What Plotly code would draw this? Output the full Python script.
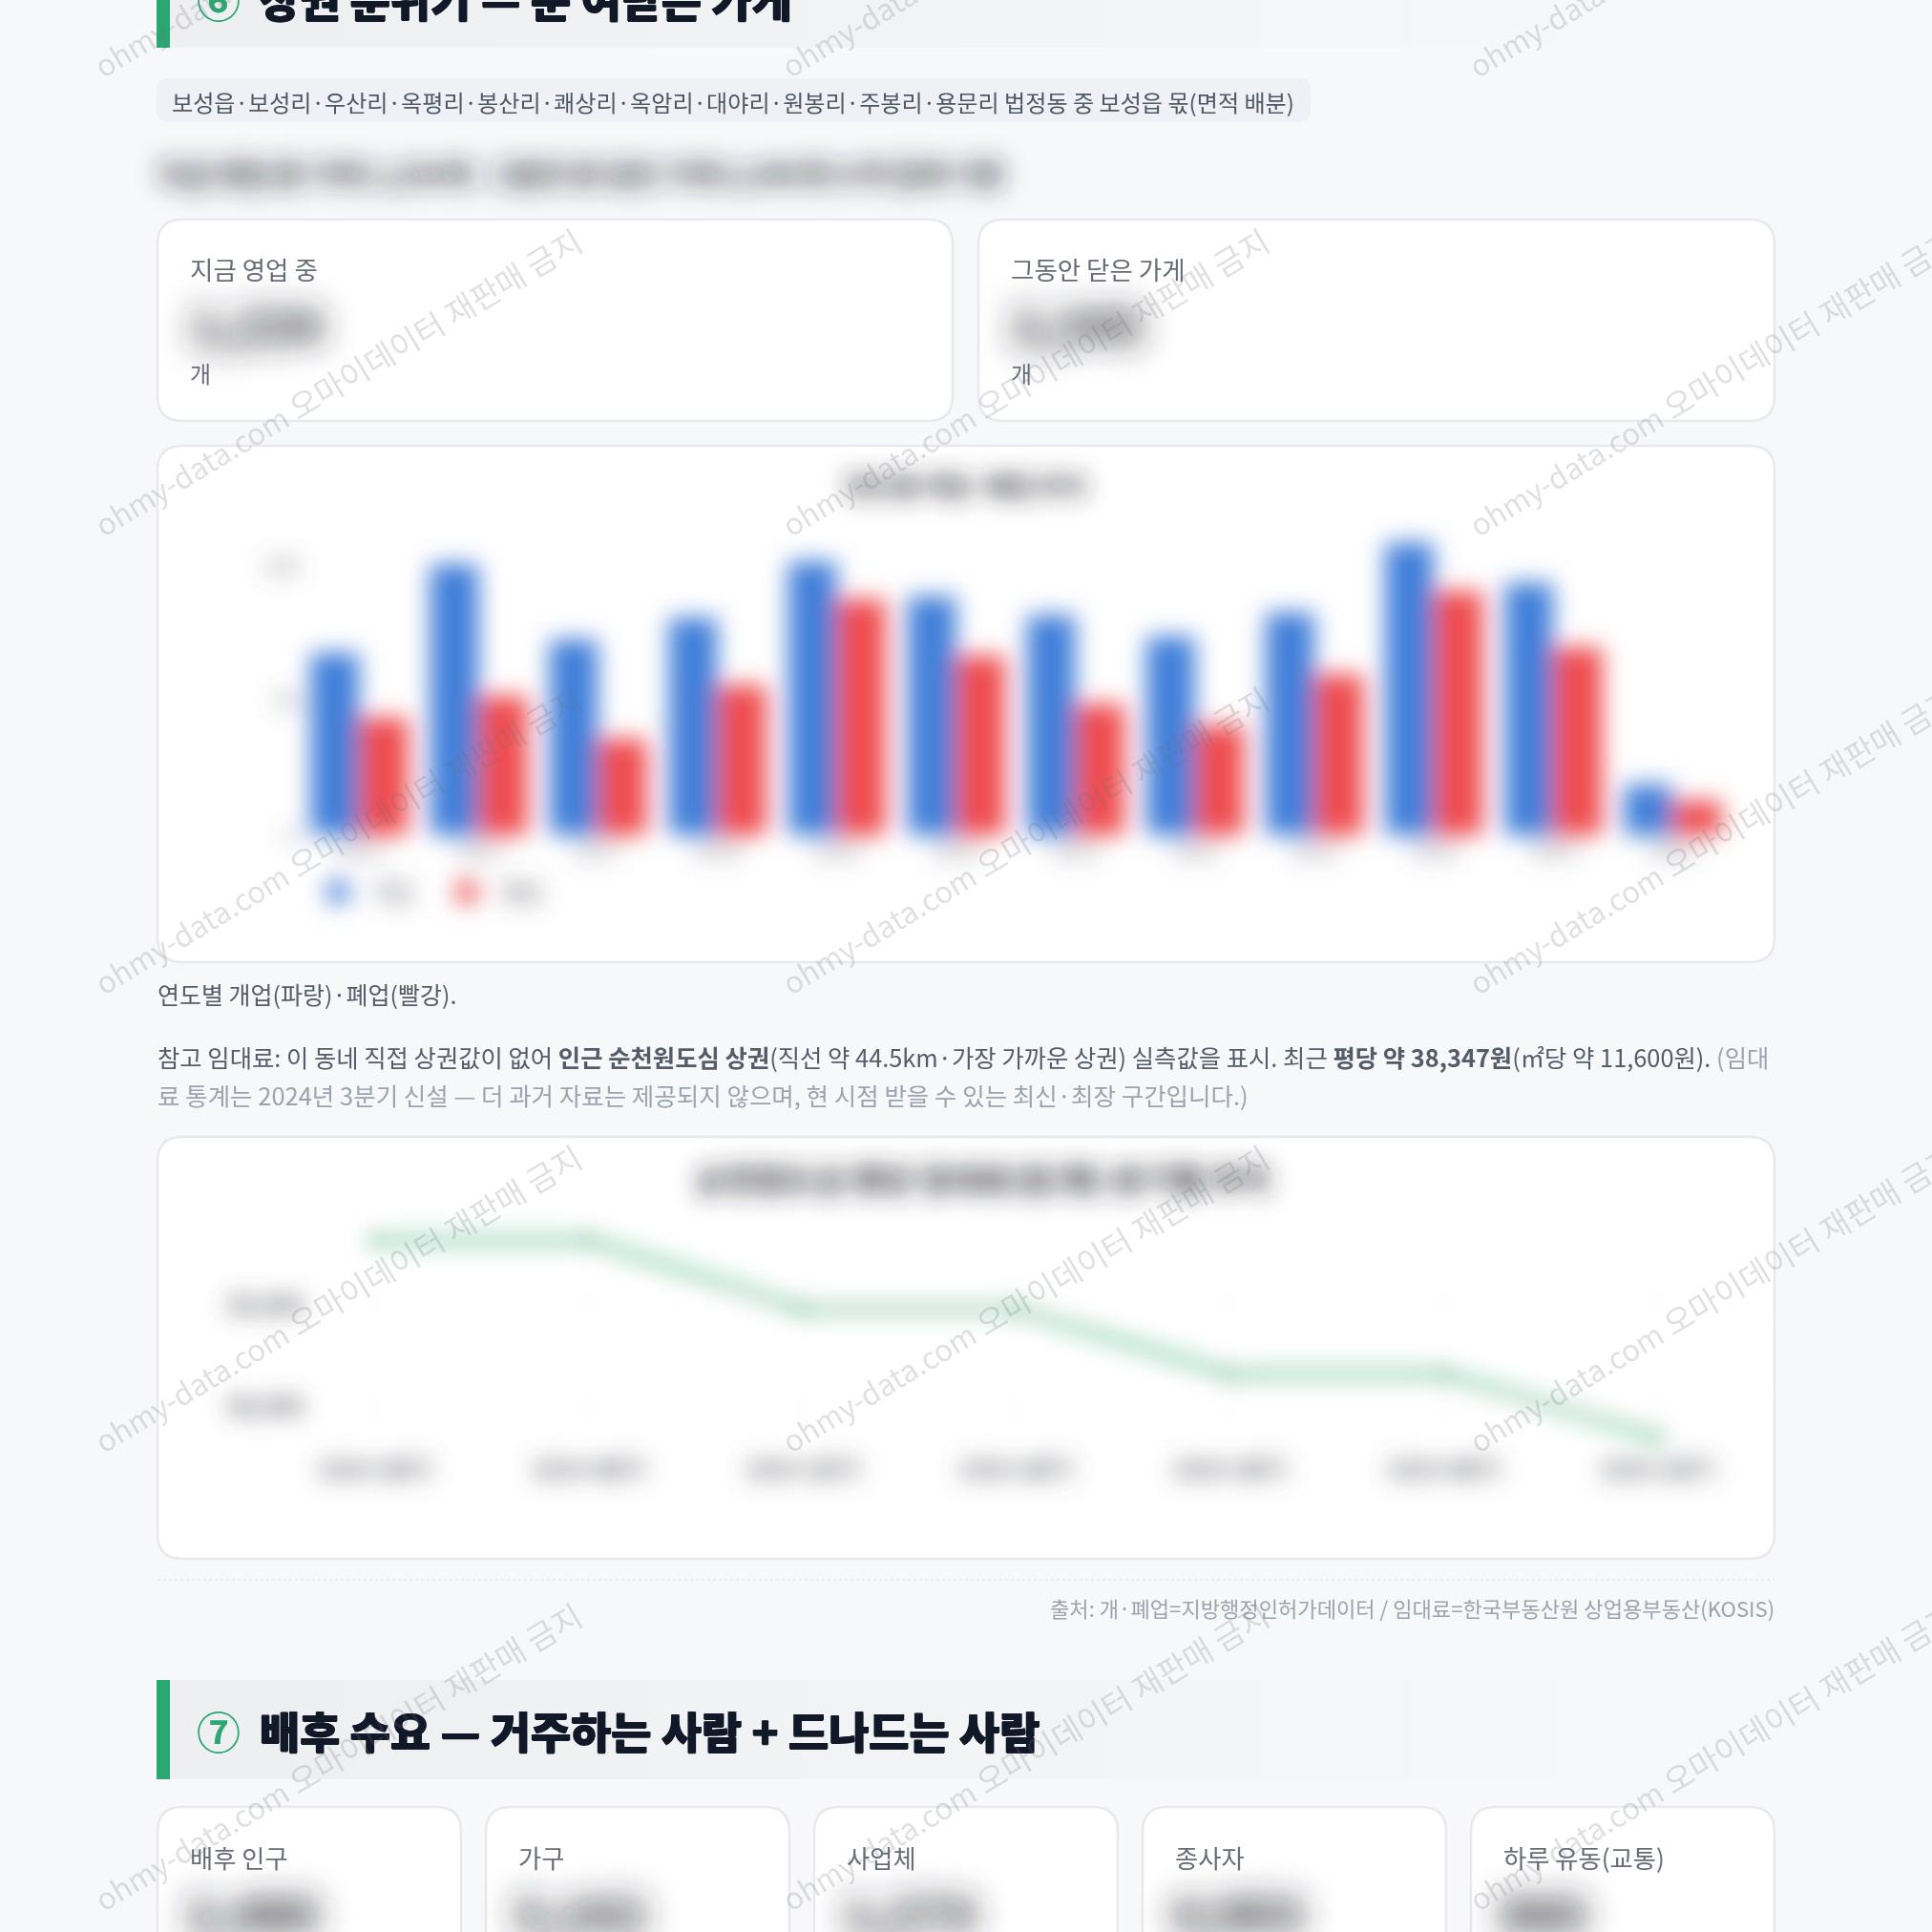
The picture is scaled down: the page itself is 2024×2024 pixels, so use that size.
import json
import plotly.graph_objects as go

W = H = 2024
FONT = "Noto Sans CJK KR"
PAGE_BG = "#f7f8fa"
GREEN = "#2ba772"
BLUE = "#3f7fd9"
RED = "#ef4b4d"
INK = "#111827"
BODY = "#555c69"
LABEL = "#666c78"
MUTED = "#9ca3af"
BLOB = "#262a33"

# 연도별 개업·폐업 건수
years = ["2015", "2016", "2017", "2018", "2019", "2020", "2021", "2022", "2023", "2024", "2025", "2026"]
opened = [68, 101, 73, 81, 102, 89, 82, 74, 83, 109, 94, 19]
closed = [44, 52, 36, 56, 88, 67, 49, 41, 60, 91, 70, 13]

# 분기별 평당 임대료(원)
quarters = ["2024 3분기", "2024 4분기", "2025 1분기", "2025 2분기", "2025 3분기", "2025 4분기", "2026 1분기"]
rent_per_pyeong = [39319, 39319, 38979, 38979, 38658, 38658, 38347]
rent_ticks = [38500, 39000]
rent_tick_labels = ["38,500", "39,000"]


def px(x):
    return x / W


def py(y):
    return 1 - y / H


shapes = []
annotations = []
blur = {}


def rect(x0, y0, x1, y1, fill):
    shapes.append(dict(type="rect", xref="paper", yref="paper", x0=px(x0), x1=px(x1),
                       y0=py(y1), y1=py(y0), fillcolor=fill, line_width=0, layer="below"))


def rounded(x0, y0, x1, y1, r, fill, stroke=None, sw=0):
    X0, X1, Y0, Y1 = px(x0), px(x1), py(y0), py(y1)
    rx, ry = r / W, r / H
    path = (f"M{X0 + rx},{Y0} L{X1 - rx},{Y0} Q{X1},{Y0} {X1},{Y0 - ry} "
            f"L{X1},{Y1 + ry} Q{X1},{Y1} {X1 - rx},{Y1} "
            f"L{X0 + rx},{Y1} Q{X0},{Y1} {X0},{Y1 + ry} "
            f"L{X0},{Y0 - ry} Q{X0},{Y0} {X0 + rx},{Y0} Z")
    shapes.append(dict(type="path", xref="paper", yref="paper", path=path, fillcolor=fill,
                       line=dict(color=stroke or fill, width=sw), layer="below"))


def text(x, y, s, size, color, anchor="left", weight=None, sigma=None, angle=0, shadow=None):
    font = dict(family=FONT, size=size, color=color)
    if weight:
        font["weight"] = weight
    if shadow:
        font["shadow"] = shadow
    annotations.append(dict(xref="paper", yref="paper", x=px(x), y=py(y), text=s, showarrow=False,
                            xanchor=anchor, yanchor="middle", font=font, textangle=angle,
                            borderpad=0, borderwidth=0))
    if sigma:
        blur[len(annotations) - 1] = sigma


def section_banner(top, bottom, number, title):
    # 왼쪽 강조선과 오른쪽으로 옅어지는 띠
    edges = [178, 358, 518, 678, 838, 1000, 1160, 1320, 1477, 1630, 1784]
    start, end = (238, 239, 241), (247, 248, 250)
    for i in range(len(edges) - 1):
        t = i / (len(edges) - 2)
        c = tuple(round(a + (b - a) * t) for a, b in zip(start, end))
        rect(edges[i], top, edges[i + 1], bottom, "rgb(%d,%d,%d)" % c)
    rect(164, top, 178, bottom, GREEN)
    mid = (top + bottom) / 2
    text(229, mid, number, 46, GREEN, "center", weight=700)
    text(272, mid, title, 45.8, INK, weight=900,
         shadow=f"0.7px 0 0 {INK}, -0.7px 0 0 {INK}, 0 0.5px 0 {INK}")


def card(x0, y0, x1, y1):
    rounded(x0, y0, x1, y1, 26, "#ffffff", "#e7e9ee", 2.5)


# 섹션 6 머리글과 요약 영역
section_banner(-54, 50, "⑥", "상권 분위기 — 문 여닫은 가게")
rounded(164, 82, 1373, 128, 13, "#eff1f6")
text(180, 106, "보성읍·보성리·우산리·옥평리·봉산리·쾌상리·옥암리·대야리·원봉리·주봉리·용문리 법정동 중 보성읍 몫(면적 배분)",
     24.1, "#4f5664")
text(165, 181, "지금 영업 중 가게 1,234개", 30, BLOB, weight=700, sigma=13)
text(510, 181, "그동안 문 닫은 가게 2,345개 누적 집계 기준", 30, BLOB, weight=700, sigma=13)

card(165, 230, 998, 441)
card(1025, 230, 1859, 441)
text(199, 281, "지금 영업 중", 26.5, LABEL)
text(199, 338, "1,234", 50, BLOB, weight=900, sigma=17)
text(199, 391, "개", 24, LABEL)
text(1059, 281, "그동안 닫은 가게", 26.5, LABEL)
text(1059, 338, "2,345", 50, BLOB, weight=900, sigma=17)
text(1059, 391, "개", 24, LABEL)

# 차트 카드
card(165, 467, 1859, 1008)
text(1012, 508, "연도별 개업·폐업 추이", 27, BLOB, "center", weight=700, sigma=12)

text(165, 1041, "연도별 개업(파랑)·폐업(빨강).", 25, BODY)
text(165, 1107,
     "참고 임대료: 이 동네 직접 상권값이 없어 <b>인근 순천원도심 상권</b>(직선 약 44.5km·가장 가까운 상권) 실측값을 표시. "
     "최근 <b>평당 약 38,347원</b>(㎡당 약 11,600원). "
     f"<span style='color:{MUTED}'>(임대</span>",
     25.35, BODY)
text(165, 1146, "료 통계는 2024년 3분기 신설 — 더 과거 자료는 제공되지 않으며, 현 시점 받을 수 있는 최신·최장 구간입니다.)",
     25.5, MUTED)

card(165, 1191, 1859, 1633)
text(1030, 1234, "순천원도심 평당 임대료(원/평) 분기별 추이", 34, BLOB, "center", weight=700, sigma=12)

shapes.append(dict(type="line", xref="paper", yref="paper", x0=px(165), x1=px(1859), y0=py(1655), y1=py(1655),
                   line=dict(color="#e9ecf0", width=2, dash="dot"), layer="below"))
text(1859, 1684, "출처: 개·폐업=지방행정인허가데이터 / 임대료=한국부동산원 상업용부동산(KOSIS)", 22.1, MUTED, "right")

# 섹션 7 머리글과 지표 카드
section_banner(1760, 1864, "⑦", "배후 수요 — 거주하는 사람 + 드나드는 사람")
metric_labels = ["배후 인구", "가구", "사업체", "종사자", "하루 유동(교통)"]
metric_values = ["2,480", "5,162", "1,274", "4,903", "860"]
card_lefts = [165, 509, 853, 1197, 1541]
for left, label, value in zip(card_lefts, metric_labels, metric_values):
    card(left, 1893, left + 318, 2080)
    text(left + 34, 1945, label, 26.3, LABEL)
    text(left + 30, 2002, value, 50, BLOB, weight=900, sigma=17)

# 페이지 전체에 반복되는 워터마크
WATERMARK = ("<span style='font-size:31.2px'>ohmy-data.com</span> "
             "<span style='font-size:33.2px'>오마이데이터 재판매 금지</span>")
for row in range(5):
    for col in range(3):
        text(353 + 720 * col, -81 + 480 * row, WATERMARK, 33,
             "rgba(110,114,124,0.22)", "center", angle=-31)

fig = go.Figure()
fig.add_bar(x=years, y=opened, name="개업", marker_color=BLUE, xaxis="x", yaxis="y")
fig.add_bar(x=years, y=closed, name="폐업", marker_color=RED, xaxis="x", yaxis="y")
fig.add_scatter(x=quarters, y=rent_per_pyeong, mode="lines+markers", xaxis="x2", yaxis="y2", showlegend=False,
                line=dict(color=GREEN, width=6), marker=dict(color=GREEN, size=13))

tick_font = dict(family=FONT, size=22, color="#666a72")
fig.update_layout(
    width=W, height=H, margin=dict(l=0, r=0, t=0, b=0, autoexpand=False),
    paper_bgcolor=PAGE_BG, plot_bgcolor="rgba(0,0,0,0)",
    barmode="group", bargap=0.176, bargroupgap=0,
    shapes=shapes, annotations=annotations, hovermode=False,
    font=dict(family=FONT),
    legend=dict(orientation="h", x=px(319), y=py(935), xanchor="left", yanchor="middle",
                entrywidth=60, entrywidthmode="pixels", itemwidth=60, bgcolor="rgba(0,0,0,0)",
                font=dict(family=FONT, size=24, color="#555a64")),
    xaxis=dict(domain=[px(314), px(1815)], anchor="y", showgrid=False, zeroline=False, showline=False,
               ticks="", tickfont=tick_font, type="category", tickangle=0),
    yaxis=dict(domain=[py(875), py(537)], range=[0, 120], anchor="x", tickvals=[0, 50, 100], showgrid=False,
               zeroline=False, showline=False, ticks="", tickfont=tick_font),
    xaxis2=dict(domain=[px(320), px(1848)], range=[-0.326, 6.5], anchor="y2", showgrid=True,
                gridcolor="#f1f2f4", zeroline=False, showline=False, ticks="", ticklabelstandoff=3,
                tickfont=dict(family=FONT, size=23.6, color="#5f636b", weight=700), type="category", tickangle=0),
    yaxis2=dict(domain=[py(1520), py(1250)], range=[38278, 39552], anchor="x2", tickvals=rent_ticks,
                ticktext=rent_tick_labels, showgrid=True, gridcolor="#f1f2f4", zeroline=False, showline=False,
                ticks="", tickfont=dict(family=FONT, size=25, color="#4f535b", weight=700)),
)

# 수치가 가려지는 영역: 차트 본문, 범례, 지정한 주석에 흐림 필터 적용
# 필터 영역을 넉넉히 잡아 글자 둘레에서 흐림이 잘리지 않게 한다
post_script = """
var blurred = %s;
var ns = 'http://www.w3.org/2000/svg';
var holder = document.createElementNS(ns, 'svg');
holder.setAttribute('width', '0');
holder.setAttribute('height', '0');
holder.style.position = 'absolute';
document.body.appendChild(holder);
function filterFor(sigma) {
  var id = 'soften-' + sigma;
  if (!document.getElementById(id)) {
    var f = document.createElementNS(ns, 'filter');
    f.setAttribute('id', id);
    f.setAttribute('x', '-100%%');
    f.setAttribute('y', '-300%%');
    f.setAttribute('width', '300%%');
    f.setAttribute('height', '700%%');
    var b = document.createElementNS(ns, 'feGaussianBlur');
    b.setAttribute('stdDeviation', sigma);
    f.appendChild(b);
    holder.appendChild(f);
  }
  return 'url(#' + id + ')';
}
document.querySelectorAll('.cartesianlayer .subplot').forEach(function (g) { g.setAttribute('filter', filterFor(12)); });
document.querySelectorAll('.infolayer .legend').forEach(function (g) { g.setAttribute('filter', filterFor(12)); });
document.querySelectorAll('.infolayer .legend .legendpoints path').forEach(function (p) {
  p.setAttribute('transform', (p.getAttribute('transform') || '') + ' scale(2)');
});
Object.keys(blurred).forEach(function (i) {
  document.querySelectorAll('.annotation[data-index="' + i + '"]').forEach(function (g) {
    g.setAttribute('filter', filterFor(blurred[i]));
  });
});
""" % json.dumps(blur)

fig.write_html("out.html", post_script=post_script, config=dict(displayModeBar=False, responsive=False))
